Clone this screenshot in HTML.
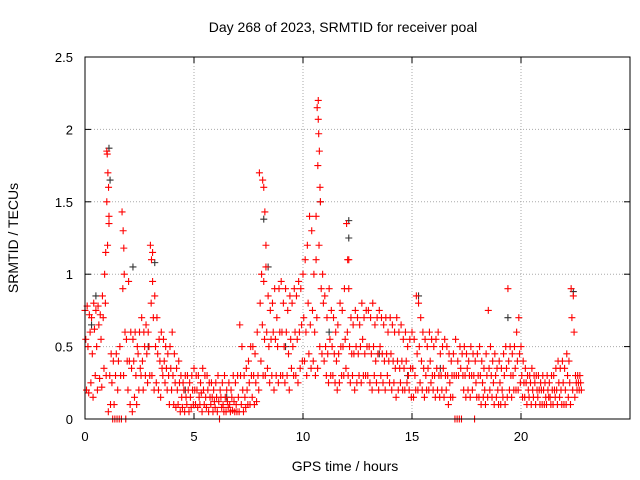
<!DOCTYPE html>
<html><head><meta charset="utf-8"><style>
body{margin:0;background:#fff;}
svg{display:block;font-family:"Liberation Sans",sans-serif;}
</style></head><body>
<svg id="chart" width="640" height="480" viewBox="0 0 640 480">
<rect x="0" y="0" width="640" height="480" fill="#fff"/>
<text x="343" y="32" font-size="14" text-anchor="middle">Day 268 of 2023, SRMTID for receiver poal</text>
<text transform="translate(18,238) rotate(-90)" font-size="14" text-anchor="middle">SRMTID / TECUs</text>
<text x="345" y="471" font-size="14" text-anchor="middle">GPS time / hours</text>
<g id="grid"></g>
<g id="ticks"></g>
<g id="black"></g>
<g id="red"></g>
<rect x="85" y="57" width="545" height="362" fill="none" stroke="#000" stroke-width="1"/>
</svg>
<script>
const xTicks=[0,5,10,15,20];
const yTicks=[0,0.5,1,1.5,2,2.5];
const yTickLabels=["0","0.5","1","1.5","2","2.5"];
const step=0.1;
const redHi=[.75,.78,.72,.7,.8,.75,.78,.72,.85,1.0,
1.85,1.4,.45,.4,.3,.2,.5,1.43,1.0,.55,
.95,.6,.55,.6,.5,.6,.7,.6,.65,.6,
1.2,1.15,.85,.7,.55,.6,.55,.5,.45,.5,
.6,.45,.35,.4,.3,.25,.3,.3,.25,.3,
.35,.3,.3,.25,.35,.3,.3,.25,.25,.2,
.25,.3,.2,.25,.3,.2,.25,.2,.3,.25,
.3,.65,.5,.3,.35,.4,.5,.5,.45,.6,
1.7,1.0,.95,1.05,.85,.75,.8,.9,.7,.9,
.95,.8,.9,.75,.85,.8,.9,.85,.95,.9,
1.0,1.1,1.2,1.4,1.3,1.0,1.1,2.2,1.5,1.0,
.85,.7,.9,.75,.7,.6,.65,.8,.75,.9,
1.35,1.1,.7,.65,.75,.7,.65,.8,.7,.75,
.75,.7,.8,.65,.7,.75,.7,.65,.7,.6,
.7,.65,.6,.7,.6,.65,.55,.6,.5,.55,
.6,.55,.85,.8,.7,.6,.55,.5,.6,.55,
.5,.55,.6,.45,.5,.55,.5,.45,.4,.45,
.55,.4,.5,.45,.5,.45,.4,.5,.45,.4,
.45,.5,.4,.35,.45,.75,.5,.4,.45,.35,
.4,.35,.45,.5,.9,.5,.45,.5,.6,.7,
.5,.4,.35,.3,.3,.35,.3,.3,.3,.25,
.3,.25,.3,.25,.3,.3,.35,.4,.35,.4,
.35,.45,.4,.9,.85,.3,.3,.3];
const redMid=[.55,.5,.6,.45,.62,.5,.65,.55,.7,.8,
1.2,.3,.25,.1,.45,.4,.3,.9,.6,.4,
.4,.35,.4,.3,.45,.35,.4,.5,.45,.5,
.8,.7,.5,.45,.4,.35,.4,.35,.3,.35,
.3,.25,.2,.25,.15,.2,.15,.2,.15,.2,
.2,.2,.15,.18,.2,.15,.2,.15,.15,.12,
.15,.12,.15,.1,.15,.12,.1,.15,.12,.1,
.15,.3,.2,.15,.2,.25,.3,.3,.25,.3,
.8,.65,.55,.6,.5,.55,.6,.55,.5,.6,
.6,.5,.6,.45,.55,.5,.6,.55,.6,.65,
.7,.6,.8,.65,.75,.6,.7,1.2,.9,.8,
.5,.45,.55,.5,.45,.4,.45,.5,.5,.55,
.6,.5,.45,.45,.5,.45,.5,.55,.45,.5,
.5,.45,.5,.4,.45,.5,.45,.4,.45,.4,
.45,.4,.35,.4,.35,.4,.35,.4,.3,.35,
.35,.3,.45,.5,.4,.35,.3,.35,.4,.3,
.3,.35,.3,.3,.35,.3,.3,.25,.3,.3,
.3,.3,.35,.3,.3,.35,.3,.3,.3,.25,
.3,.3,.25,.2,.3,.35,.3,.25,.3,.2,
.25,.2,.3,.35,.4,.3,.3,.35,.4,.45,
.3,.25,.25,.2,.25,.2,.25,.2,.2,.2,
.2,.15,.2,.15,.2,.2,.2,.25,.2,.25,
.2,.3,.25,.7,.6,.25,.25,.25];
const redLo=[.2,.18,.25,.15,.3,.2,.28,.22,.35,.3,
.05,.1,0,0,0,0,0,.3,0,.2,
.1,.05,.15,.1,.2,.3,.2,.3,.25,.3,
.3,.2,.25,.2,.15,.3,.25,.2,.1,.2,
.1,.08,.1,.05,.08,.05,.1,.05,.08,.1,
.1,.08,.1,.05,.1,.08,.05,.1,.05,.08,
.05,0,.08,.05,.05,.08,.05,.06,.05,.05,
.05,.1,.05,.08,.1,.1,.15,.1,.12,.2,
.4,.3,.3,.35,.25,.3,.2,.3,.25,.3,
.3,.25,.3,.2,.35,.3,.3,.25,.35,.4,
.4,.3,.45,.35,.4,.3,.35,.5,.45,.4,
.3,.25,.3,.3,.25,.2,.25,.3,.3,.35,
.3,.25,.3,.2,.25,.3,.25,.3,.3,.3,
.25,.2,.3,.25,.2,.3,.25,.2,.3,.25,
.2,.25,.15,.2,.25,.2,.2,.25,.2,.15,
.15,.2,.2,.25,.2,.15,.2,.2,.25,.2,
.15,.2,.15,.2,.15,.2,.1,.15,.15,0,
0,0,0,.2,.15,.2,.15,.2,0,.15,
.15,.1,.15,.1,.15,.2,.15,.1,.15,.1,
.1,.15,.1,.15,.2,.15,.2,.2,.2,.25,
.15,.15,.1,.15,.1,.15,.1,.15,.1,.1,
.1,.1,.15,.1,.1,.15,.1,.15,.1,.1,
.1,.15,.1,.2,.15,.2,.2,.2];
const spikeT=[1.02,1.05,1.08,1.0,1.1,0.95,1.75,1.78,3.05,3.1,8.15,8.2,8.25,8.3,10.65,10.7,10.72,10.75,10.68,10.78,10.6,12.05,12.1];
const spikeV=[1.83,1.7,1.6,1.5,1.35,1.15,1.3,1.18,1.1,0.95,1.65,1.6,1.43,1.2,2.15,2.07,1.97,1.85,1.75,1.6,1.4,1.1,0.9];
const blackT=[1.1,0.5,0.3,2.2,3.2,8.2,8.4,10.8,12.1,12.1,15.3,19.4,22.4,1.15,9.2,13.5,16.3,4.6,6.5,14.8,11.2,2.9];
const blackV=[1.87,0.85,0.65,1.05,1.08,1.38,1.05,1.5,1.25,1.37,0.85,0.7,0.88,1.65,0.5,0.45,0.35,0.2,0.15,0.3,0.6,0.5];
const X=t=>85+t*(545/25);
const Y=v=>419-v*(362/2.5);
const NS="http://www.w3.org/2000/svg";
function mk(tag,attrs,parent){const e=document.createElementNS(NS,tag);for(const k in attrs)e.setAttribute(k,attrs[k]);parent.appendChild(e);return e;}
const grid=document.getElementById('grid'),ticks=document.getElementById('ticks');
xTicks.forEach(t=>{const x=X(t);
 if(t>0){const g=mk('line',{x1:x,x2:x,y1:57,y2:419,stroke:'#aaa','stroke-dasharray':'1,2'},grid);
 
 }
 mk('line',{x1:x,x2:x,y1:419,y2:413,stroke:'#000'},ticks);mk('line',{x1:x,x2:x,y1:57,y2:63,stroke:'#000'},ticks);
 const l=mk('text',{x:x,y:441,'font-size':13,'text-anchor':'middle'},ticks);l.textContent=t;
 
 });
yTicks.forEach((v,i)=>{const y=Y(v);
 if(v>0&&v<2.5){const g=mk('line',{x1:85,x2:630,y1:y,y2:y,stroke:'#aaa','stroke-dasharray':'1,2'},grid);
 
 }
 mk('line',{x1:85,x2:91,y1:y,y2:y,stroke:'#000'},ticks);mk('line',{x1:630,x2:624,y1:y,y2:y,stroke:'#000'},ticks);
 const l=mk('text',{x:73,y:y+5,'font-size':13,'text-anchor':'end'},ticks);l.textContent=yTickLabels[i];
 
 });
function plus(g,t,v,color){const x=X(t),y=Y(v);
 const p=mk('path',{d:`M${x-3.5},${y}h7M${x},${y-3.5}v7`,stroke:color,'stroke-width':1.1},g);
 
 }
const bl=document.getElementById('black'),rd=document.getElementById('red');
blackT.forEach((t,i)=>plus(bl,t,blackV[i],'#333'));
redHi.forEach((v,i)=>plus(rd,i*step,v,'#f00'));
redMid.forEach((v,i)=>plus(rd,i*step+0.035,v,'#f00'));
redLo.forEach((v,i)=>plus(rd,i*step+0.07,v,'#f00'));
spikeT.forEach((t,i)=>plus(rd,t,spikeV[i],'#f00'));
</script>
</body></html>
